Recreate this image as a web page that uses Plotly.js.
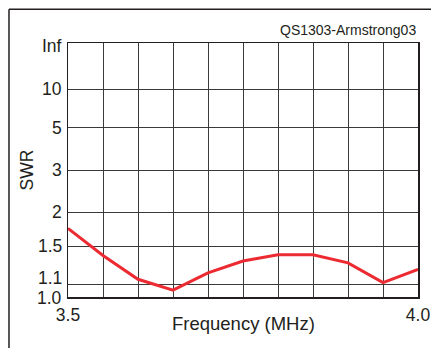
<!DOCTYPE html>
<html><head><meta charset="utf-8">
<script src="https://cdn.plot.ly/plotly-3.0.1.min.js"></script>
<style>html,body{margin:0;padding:0;background:#fff;}#chart{width:431px;height:348px;}</style>
</head><body><div id="chart"></div>
<script>
// Frequency (MHz) and measured SWR
const freqMHz = [3.50, 3.55, 3.60, 3.65, 3.70, 3.75, 3.80, 3.85, 3.90, 3.95, 4.00];
const swr     = [1.74, 1.39, 1.15, 1.055, 1.21, 1.33, 1.40, 1.40, 1.31, 1.12, 1.245];

// Y axis tick labels (SWR values) — axis is linear in reflection coefficient
const swrTickLabels = ['1.0', '1.1', '1.5', '2', '3', '5', '10', 'Inf'];
const swrTickValues = [1.0, 1.1, 1.5, 2, 3, 5, 10, Infinity];

// X axis grid / labels
const freqTicks = [3.50, 3.55, 3.60, 3.65, 3.70, 3.75, 3.80, 3.85, 3.90, 3.95, 4.00];
const freqTickText = ['3.5', '', '', '', '', '', '', '', '', '', '4.0'];

const toRho = s => (s === Infinity ? 1 : (s - 1) / (s + 1));

const ink = '#231f20';
const fam = 'Liberation Sans, Arial, sans-serif';
const tickFont = {family: fam, size: 17.5, color: ink};
const titleFont = {family: fam, size: 18.5, color: ink};

const trace = {
  x: freqMHz,
  y: swr.map(toRho),
  type: 'scatter',
  mode: 'lines',
  line: {color: '#ec2a31', width: 3},
  hoverinfo: 'skip'
};

// small vertical nudges of a few y tick labels as in the original
const labelShift = {'Inf': -3, '1.1': 7, '1.0': -1};
const yLabelAnnots = swrTickLabels.map((t, i) => ({
  text: t, xref: 'paper', yref: 'y', x: 0, y: toRho(swrTickValues[i]),
  xanchor: 'right', yanchor: 'middle', xshift: -5, yshift: labelShift[t] || 0,
  borderpad: 0, showarrow: false, font: tickFont
}));

const layout = {
  width: 431, height: 348,
  margin: {l: 68, r: 13, t: 43, b: 51},
  paper_bgcolor: '#fff', plot_bgcolor: '#fff',
  showlegend: false,
  font: tickFont,
  xaxis: {
    range: [3.5, 4.0],
    tickvals: freqTicks, ticktext: freqTickText,
    showgrid: true, gridcolor: '#3a3a3a', gridwidth: 1,
    zeroline: false, showline: true, linecolor: ink, linewidth: 1.5, mirror: true,
    ticks: 'outside', ticklen: 1, tickcolor: 'rgba(0,0,0,0)',
    tickfont: tickFont
  },
  yaxis: {
    range: [0, 1],
    tickvals: swrTickValues.map(toRho), showticklabels: false,
    showgrid: true, gridcolor: '#3a3a3a', gridwidth: 1,
    zeroline: false, showline: true, linecolor: ink, linewidth: 1.5, mirror: true,
    ticks: ''
  },
  shapes: [
    {type: 'line', xref: 'paper', yref: 'paper', x0: -0.1686, x1: 1.2, y0: 1.1327, y1: 1.1327,
     line: {color: ink, width: 1.5}},
    {type: 'line', xref: 'paper', yref: 'paper', x0: -0.1686, x1: -0.1686, y0: 1.1327, y1: -0.3,
     line: {color: ink, width: 1.5}}
  ],
  annotations: yLabelAnnots.concat([
    {text: 'QS1303-Armstrong03', xref: 'paper', yref: 'paper', x: 1, y: 1.05,
     xanchor: 'right', yanchor: 'middle', showarrow: false,
     font: {family: fam, size: 14, color: ink}},
    {text: 'Frequency (MHz)', xref: 'paper', yref: 'paper', x: 0.5, y: -0.1035,
     xanchor: 'center', yanchor: 'middle', showarrow: false, font: titleFont},
    {text: 'SWR', xref: 'paper', yref: 'paper', x: -0.116, y: 0.5, textangle: -90,
     xanchor: 'center', yanchor: 'middle', showarrow: false,
     font: {family: fam, size: 17.5, color: ink}}
  ])
};

Plotly.newPlot('chart', [trace], layout, {staticPlot: true, displayModeBar: false});
</script></body></html>
